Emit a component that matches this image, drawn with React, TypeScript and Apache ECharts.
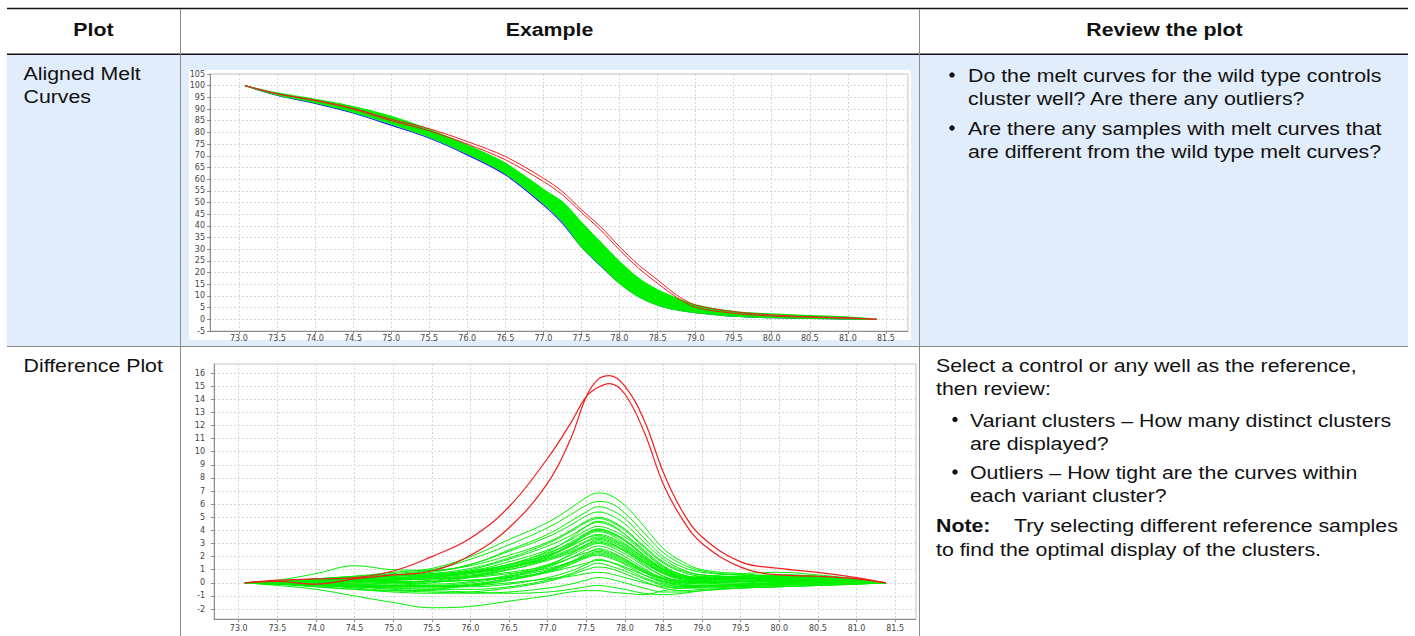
import React, { useEffect, useRef } from "react";
import * as echarts from "echarts";

// ---------- Aligned melt curves (top chart) ----------
const MELT_X = [73.08, 73.5, 74.0, 74.5, 75.0, 75.5, 76.0, 76.5, 77.0, 77.25, 77.5, 77.75, 78.0, 78.25, 78.5, 78.75, 79.0, 79.5, 80.0, 80.5, 81.0, 81.38];
const MELT_GREEN_TOP = [100, 96.9, 94.2, 91.1, 86.9, 81.2, 74.5, 66.8, 55.6, 50.2, 41.5, 33.0, 24.7, 17.6, 12.6, 9.0, 6.1, 3.3, 2.3, 1.6, 1.0, 0];
const MELT_GREEN_BOTTOM = [100, 96.1, 92.7, 88.7, 83.7, 78.1, 71.0, 62.4, 49.7, 41.9, 31.1, 23.3, 15.4, 9.7, 6.1, 4.0, 2.9, 1.4, 0.7, 0.4, 0.1, 0];
const MELT_RED_1 = [100, 96.6, 93.8, 90.3, 85.6, 81.6, 76.1, 69.7, 60.4, 54.7, 46.9, 39.7, 31.1, 23.3, 16.9, 10.4, 6.1, 3.3, 1.9, 1.1, 0.7, 0];
const MELT_RED_2 = [100, 96.5, 93.6, 90.0, 85.0, 80.7, 75.0, 68.3, 59.0, 53.3, 45.7, 38.3, 29.7, 21.9, 15.4, 9.4, 5.1, 2.6, 1.4, 0.9, 0.4, 0];
const MELT_BLUE = [100, 95.9, 92.4, 88.3, 83.1, 77.6, 70.4, 61.9, 49.0, 41.2, 31.0, 23.0, 15.5, 9.8, 6.2, 4.1, 2.9, 1.4, 0.7, 0.4, 0.1, 0];

// ---------- Difference plot (bottom chart) ----------
const DIFF_X = [73.08, 73.5, 74.0, 74.5, 75.0, 75.5, 76.0, 76.5, 77.0, 77.3, 77.5, 77.65, 77.8, 78.0, 78.25, 78.5, 78.75, 79.0, 79.5, 80.0, 80.5, 81.0, 81.38];
const DIFF_RED_A = [0, 0.2, 0.3, 0.4, 0.9, 2.0, 3.4, 5.8, 9.5, 12.2, 14.2, 14.9, 15.2, 14.4, 11.5, 7.5, 4.8, 3.0, 1.2, 0.6, 0.5, 0.3, 0];
const DIFF_RED_B = [0, 0.1, -0.1, 0.3, 0.6, 0.9, 2.1, 4.2, 7.6, 11.0, 14.2, 15.5, 15.8, 15.0, 12.4, 8.4, 5.4, 3.5, 1.6, 1.1, 0.8, 0.4, 0];
const DIFF_GREEN = [
  [0, 0.1, 0.3, 0.5, 0.8, 1.1, 2.0, 3.3, 4.6, 5.7, 6.5, 6.85, 6.7, 5.9, 4.3, 2.6, 1.6, 1.0, 0.7, 0.5, 0.4, 0.2, 0],
  [0, 0.1, 0.2, 0.4, 0.7, 1.0, 1.8, 2.9, 4.2, 5.2, 5.9, 6.2, 6.1, 5.3, 3.8, 2.3, 1.4, 0.9, 0.6, 0.5, 0.4, 0.2, 0],
  [0, 0.2, 0.7, 1.3, 1.0, 0.95, 1.4, 2.5, 3.7, 4.7, 5.4, 5.8, 5.6, 4.9, 3.4, 2.0, 1.2, 0.8, 0.6, 0.5, 0.3, 0.2, 0],
  [0, 0.0, 0.1, 0.2, 0.5, 0.8, 1.4, 2.4, 3.5, 4.4, 5.1, 5.4, 5.2, 4.5, 3.1, 1.8, 1.0, 0.6, 0.4, 0.3, 0.2, 0.1, 0],
  [0, 0.1, 0.3, 0.4, 0.6, 0.9, 1.3, 2.1, 3.1, 4.0, 4.7, 5.0, 4.8, 4.1, 2.8, 1.6, 0.9, 0.6, 0.5, 0.6, 0.5, 0.3, 0],
  [0, -0.1, 0.0, 0.1, 0.3, 0.6, 1.0, 1.8, 2.8, 3.6, 4.3, 4.6, 4.4, 3.7, 2.5, 1.3, 0.6, 0.3, 0.2, 0.2, 0.1, 0.1, 0],
  [0, 0.1, 0.2, 0.3, 0.4, 0.6, 0.9, 1.6, 2.5, 3.3, 4.0, 4.3, 4.1, 3.5, 2.3, 1.2, 0.6, 0.4, 0.4, 0.3, 0.3, 0.1, 0],
  [0, 0.0, -0.1, 0.0, 0.2, 0.4, 0.8, 1.4, 2.3, 3.0, 3.7, 4.0, 3.8, 3.2, 2.1, 1.0, 0.4, 0.2, 0.1, 0.2, 0.2, 0.1, 0],
  [0, 0.1, 0.3, 0.5, 0.6, 0.7, 0.9, 1.4, 2.1, 2.8, 3.4, 3.7, 3.5, 2.9, 1.9, 1.0, 0.5, 0.4, 0.5, 0.5, 0.4, 0.2, 0],
  [0, -0.1, -0.2, -0.3, -0.2, 0.0, 0.4, 1.0, 1.8, 2.5, 3.1, 3.4, 3.2, 2.6, 1.6, 0.7, 0.2, 0.0, -0.1, 0.0, 0.1, 0.0, 0],
  [0, 0.0, 0.1, 0.1, 0.2, 0.3, 0.6, 1.0, 1.7, 2.3, 2.8, 3.1, 2.9, 2.4, 1.5, 0.7, 0.3, 0.2, 0.3, 0.3, 0.2, 0.1, 0],
  [0, -0.1, -0.3, -0.5, -0.6, -0.5, -0.2, 0.4, 1.2, 1.9, 2.5, 2.8, 2.6, 2.0, 1.1, 0.3, -0.1, -0.2, -0.2, -0.1, 0.0, 0.0, 0],
  [0, 0.1, 0.2, 0.2, 0.3, 0.4, 0.5, 0.8, 1.3, 1.9, 2.3, 2.5, 2.3, 1.8, 1.0, 0.4, 0.2, 0.2, 0.3, 0.4, 0.3, 0.2, 0],
  [0, 0.0, -0.2, -0.3, -0.4, -0.4, -0.2, 0.2, 0.8, 1.4, 1.9, 2.1, 1.9, 1.4, 0.6, 0.0, -0.3, -0.3, -0.2, -0.1, 0.0, 0.0, 0],
  [0, 0.1, 0.1, 0.0, 0.0, 0.1, 0.2, 0.4, 0.8, 1.2, 1.5, 1.7, 1.6, 1.2, 0.6, 0.1, -0.1, 0.0, 0.1, 0.2, 0.2, 0.1, 0],
  [0, -0.1, -0.3, -0.5, -0.7, -0.8, -0.7, -0.4, 0.1, 0.6, 1.0, 1.2, 1.1, 0.7, 0.1, -0.4, -0.6, -0.5, -0.4, -0.3, -0.2, -0.1, 0],
  [0, 0.0, -0.1, -0.2, -0.2, -0.2, -0.2, 0.0, 0.3, 0.5, 0.7, 0.8, 0.7, 0.4, 0.0, -0.3, -0.4, -0.3, -0.1, 0.0, 0.1, 0.0, 0],
  [0, -0.1, -0.2, -0.4, -0.6, -0.7, -0.8, -0.7, -0.4, -0.1, 0.2, 0.4, 0.3, 0.0, -0.4, -0.7, -0.7, -0.6, -0.4, -0.3, -0.2, -0.1, 0],
  [0, -0.1, -0.2, -0.3, -0.5, -0.6, -0.7, -0.8, -0.7, -0.5, -0.3, -0.2, -0.3, -0.5, -0.8, -0.9, -0.8, -0.6, -0.4, -0.3, -0.2, -0.1, 0],
  [0, -0.2, -0.5, -1.0, -1.5, -1.9, -1.8, -1.4, -1.0, -0.7, -0.6, -0.6, -0.7, -0.8, -0.9, -0.6, -0.4, -0.3, -0.2, -0.1, -0.1, 0.0, 0],
  [0, 0.0, 0.1, 0.2, 0.3, 0.5, 0.8, 1.2, 1.9, 2.6, 3.2, 3.5, 3.3, 2.7, 1.7, 0.8, 0.4, 0.5, 0.7, 0.8, 0.6, 0.3, 0],
  [0, 0.1, 0.0, -0.1, -0.1, 0.1, 0.5, 1.2, 2.1, 2.9, 3.6, 3.9, 3.7, 3.0, 1.9, 0.9, 0.4, 0.3, 0.3, 0.2, 0.2, 0.1, 0],
  [0, 0.0, 0.1, 0.1, 0.0, -0.1, 0.1, 0.6, 1.4, 2.1, 2.7, 3.0, 2.8, 2.2, 1.3, 0.5, 0.1, 0.0, 0.1, 0.1, 0.1, 0.0, 0],
  [0, -0.1, -0.2, -0.2, -0.3, -0.3, -0.1, 0.3, 0.9, 1.5, 2.0, 2.3, 2.1, 1.6, 0.8, 0.1, -0.2, -0.2, -0.1, 0.0, 0.0, 0.0, 0],
  [0, 0.1, 0.2, 0.3, 0.5, 0.7, 1.1, 1.9, 3.0, 3.9, 4.6, 4.9, 4.7, 4.0, 2.7, 1.5, 0.8, 0.5, 0.4, 0.4, 0.3, 0.2, 0],
  [0, 0.0, 0.0, 0.1, 0.2, 0.4, 0.7, 1.3, 2.2, 3.1, 3.8, 4.1, 3.9, 3.3, 2.1, 1.1, 0.5, 0.3, 0.3, 0.3, 0.2, 0.1, 0],
  [0, -0.1, -0.1, -0.1, 0.0, 0.2, 0.5, 1.1, 2.0, 2.8, 3.4, 3.6, 3.4, 2.8, 1.8, 0.8, 0.3, 0.1, 0.0, 0.1, 0.1, 0.0, 0],
  [0, 0.1, 0.2, 0.4, 0.5, 0.6, 0.8, 1.2, 1.8, 2.4, 2.9, 3.2, 3.0, 2.5, 1.6, 0.8, 0.4, 0.3, 0.4, 0.5, 0.4, 0.2, 0],
  [0, 0.0, -0.1, -0.2, -0.3, -0.3, -0.2, 0.2, 0.9, 1.6, 2.2, 2.6, 2.4, 1.8, 0.9, 0.2, -0.2, -0.3, -0.3, -0.2, -0.1, 0.0, 0],
  [0, 0.1, 0.1, 0.1, 0.2, 0.3, 0.4, 0.7, 1.1, 1.6, 2.0, 2.2, 2.0, 1.5, 0.8, 0.3, 0.1, 0.1, 0.2, 0.3, 0.3, 0.1, 0],
  [0, -0.1, -0.2, -0.3, -0.4, -0.5, -0.5, -0.3, 0.2, 0.7, 1.2, 1.5, 1.3, 0.9, 0.3, -0.2, -0.4, -0.4, -0.3, -0.2, -0.1, 0.0, 0],
  [0, 0.0, 0.1, 0.1, 0.1, 0.1, 0.2, 0.5, 1.0, 1.6, 2.1, 2.4, 2.2, 1.7, 0.9, 0.3, 0.0, 0.0, 0.1, 0.2, 0.1, 0.1, 0],
  [0, 0.1, 0.2, 0.3, 0.4, 0.5, 0.7, 1.2, 2.0, 2.9, 3.7, 4.1, 3.9, 3.2, 2.0, 1.0, 0.5, 0.4, 0.5, 0.6, 0.5, 0.2, 0],
  [0, 0.0, -0.1, -0.1, -0.2, -0.2, 0.0, 0.5, 1.3, 2.2, 2.9, 3.3, 3.1, 2.4, 1.4, 0.5, 0.0, -0.1, -0.1, 0.0, 0.0, 0.0, 0],
  [0, -0.1, -0.2, -0.3, -0.3, -0.3, -0.3, -0.1, 0.4, 0.9, 1.4, 1.8, 1.6, 1.1, 0.4, -0.1, -0.3, -0.3, -0.2, -0.1, 0.0, 0.0, 0],
  [0, 0.1, 0.1, 0.2, 0.3, 0.5, 0.8, 1.4, 2.4, 3.4, 4.3, 4.7, 4.5, 3.7, 2.4, 1.2, 0.6, 0.4, 0.4, 0.4, 0.3, 0.2, 0],
];

// ---------- Tick labels ----------
const X_TICKS = [73.0, 73.5, 74.0, 74.5, 75.0, 75.5, 76.0, 76.5, 77.0, 77.5, 78.0, 78.5, 79.0, 79.5, 80.0, 80.5, 81.0, 81.5];
const DIFF_Y_TICKS = [-2, -1, 0, 1, 2, 3, 4, 5, 6, 7, 8, 9, 10, 11, 12, 13, 14, 15, 16];

// ---------- Table texts ----------
const HEADERS = ["Plot", "Example", "Review the plot"];
const ROW1_LABEL = ["Aligned Melt", "Curves"];
const ROW1_BULLETS = [
  ["Do the melt curves for the wild type controls", "cluster well? Are there any outliers?"],
  ["Are there any samples with melt curves that", "are different from the wild type melt curves?"],
];
const ROW2_LABEL = "Difference Plot";
const ROW2_INTRO = ["Select a control or any well as the reference,", "then review:"];
const ROW2_BULLETS = [
  ["Variant clusters \u2013 How many distinct clusters", "are displayed?"],
  ["Outliers \u2013 How tight are the curves within", "each variant cluster?"],
];
const NOTE_LABEL = "Note:";
const NOTE_TEXT = ["Try selecting different reference samples", "to find the optimal display of the clusters."];

const FONT = "'Liberation Sans', Arial, Helvetica, sans-serif";
const FS = 18.7;
const SX = 1.14;
const BASE_TO_TOP = 15.5;
const GREEN = "#00f000";
const RED = "#f01e1e";

// y is the text baseline; converted to a top-aligned position
function txt(text: string, x: number, y: number, opts: any = {}) {
  return {
    type: "text",
    x,
    y: y - BASE_TO_TOP,
    scaleX: SX,
    z: 100,
    silent: true,
    style: {
      text,
      fontSize: FS,
      fontFamily: FONT,
      fontWeight: opts.bold ? "bold" : "normal",
      fill: "#111",
      align: opts.align || "left",
      verticalAlign: "top",
      textAlign: opts.align || "left",
      textVerticalAlign: "top",
    },
  };
}
function dot(x: number, y: number) {
  return { type: "circle", z: 100, silent: true, shape: { cx: x, cy: y, r: 2.7 }, style: { fill: "#111" } };
}
function hline(x1: number, x2: number, y: number, color: string, w: number) {
  return { type: "line", z: 100, silent: true, shape: { x1, y1: y, x2, y2: y }, style: { stroke: color, lineWidth: w } };
}
function vline(x: number, y1: number, y2: number, color: string, w: number) {
  return { type: "line", z: 100, silent: true, shape: { x1: x, y1, x2: x, y2 }, style: { stroke: color, lineWidth: w } };
}

function zip(xs: number[], ys: number[]) {
  return xs.map((x, i) => [x, ys[i]]);
}

const axisLabelBase = { fontSize: 8, color: "#444", fontFamily: "'DejaVu Sans', sans-serif" };
const splitLineStyle = { show: true, lineStyle: { color: "#d6d6d6", type: [2, 2], width: 1 } };

function buildOption() {
  const graphics: any[] = [];
  // backgrounds
  graphics.push({ type: "rect", z: -10, silent: true, shape: { x: 7, y: 55, width: 1401, height: 291 }, style: { fill: "#e2edfb" } });
  graphics.push({ type: "rect", z: -9, silent: true, shape: { x: 189, y: 70, width: 722, height: 270 }, style: { fill: "#ffffff" } });
  // table rules
  graphics.push(hline(7, 1408, 8.5, "#111", 1.5));
  graphics.push(hline(7, 1408, 54.25, "#111", 1.5));
  graphics.push(hline(7, 1408, 346.5, "#8a8a8a", 1));
  graphics.push(vline(180.5, 9, 636, "#8a8a8a", 1));
  graphics.push(vline(919.5, 9, 636, "#8a8a8a", 1));
  // header
  graphics.push(txt(HEADERS[0], 93.5, 35, { bold: true, align: "center" }));
  graphics.push(txt(HEADERS[1], 549.5, 35, { bold: true, align: "center" }));
  graphics.push(txt(HEADERS[2], 1164.5, 35, { bold: true, align: "center" }));
  // row 1
  graphics.push(txt(ROW1_LABEL[0], 23.5, 79));
  graphics.push(txt(ROW1_LABEL[1], 23.5, 102));
  graphics.push(dot(952, 75));
  graphics.push(txt(ROW1_BULLETS[0][0], 968, 81));
  graphics.push(txt(ROW1_BULLETS[0][1], 968, 104));
  graphics.push(dot(952, 128));
  graphics.push(txt(ROW1_BULLETS[1][0], 968, 134));
  graphics.push(txt(ROW1_BULLETS[1][1], 968, 157));
  // row 2
  graphics.push(txt(ROW2_LABEL, 23.5, 371.5));
  graphics.push(txt(ROW2_INTRO[0], 936, 371.5));
  graphics.push(txt(ROW2_INTRO[1], 936, 394.5));
  graphics.push(dot(955, 419.5));
  graphics.push(txt(ROW2_BULLETS[0][0], 970, 426));
  graphics.push(txt(ROW2_BULLETS[0][1], 970, 449));
  graphics.push(dot(955, 472));
  graphics.push(txt(ROW2_BULLETS[1][0], 970, 478.5));
  graphics.push(txt(ROW2_BULLETS[1][1], 970, 501.5));
  graphics.push(txt(NOTE_LABEL, 936, 531.5, { bold: true }));
  graphics.push(txt(NOTE_TEXT[0], 1014, 531.5));
  graphics.push(txt(NOTE_TEXT[1], 936, 555));

  const xAxisCommon = (gridIndex: number, min: number, max: number, margin: number) => ({
    type: "value",
    gridIndex,
    min,
    max,
    axisLine: { show: true, onZero: false, lineStyle: { color: "#8c8c8c", width: 1 } },
    axisTick: { show: true, length: 3, customValues: X_TICKS, lineStyle: { color: "#8c8c8c" } },
    axisLabel: { ...axisLabelBase, margin, customValues: X_TICKS, formatter: (v: number) => v.toFixed(1) },
    splitLine: splitLineStyle,
  });

  const series: any[] = [];
  // melt chart
  series.push({
    type: "line", xAxisIndex: 0, yAxisIndex: 0, data: zip(MELT_X, MELT_BLUE), smooth: 0.3,
    showSymbol: false, silent: true, z: 2, lineStyle: { color: "#1a1aff", width: 1.2 },
  });
  series.push({
    type: "custom", xAxisIndex: 0, yAxisIndex: 0, silent: true, z: 3,
    data: [[MELT_X[0], MELT_GREEN_TOP[0]]],
    renderItem: (_params: any, api: any) => {
      const pts: number[][] = [];
      for (let i = 0; i < MELT_X.length; i++) pts.push(api.coord([MELT_X[i], MELT_GREEN_TOP[i]]));
      for (let i = MELT_X.length - 2; i >= 1; i--) pts.push(api.coord([MELT_X[i], MELT_GREEN_BOTTOM[i]]));
      return { type: "polygon", shape: { points: pts, smooth: 0.3 }, style: { fill: GREEN, stroke: GREEN, lineWidth: 1.2 } };
    },
  });
  series.push({
    type: "line", xAxisIndex: 0, yAxisIndex: 0, data: zip(MELT_X, MELT_RED_1), smooth: 0.3,
    showSymbol: false, silent: true, z: 4, lineStyle: { color: RED, width: 1 },
  });
  series.push({
    type: "line", xAxisIndex: 0, yAxisIndex: 0, data: zip(MELT_X, MELT_RED_2), smooth: 0.3,
    showSymbol: false, silent: true, z: 4, lineStyle: { color: RED, width: 1 },
  });
  // difference chart
  DIFF_GREEN.forEach((g) => {
    series.push({
      type: "line", xAxisIndex: 1, yAxisIndex: 1, data: zip(DIFF_X, g), smooth: 0.4,
      showSymbol: false, silent: true, z: 3, lineStyle: { color: GREEN, width: 1 },
    });
  });
  [DIFF_RED_A, DIFF_RED_B].forEach((r) => {
    series.push({
      type: "line", xAxisIndex: 1, yAxisIndex: 1, data: zip(DIFF_X, r), smooth: 0.4,
      showSymbol: false, silent: true, z: 4, lineStyle: { color: RED, width: 1.2 },
    });
  });

  return {
    animation: false,
    backgroundColor: "#ffffff",
    graphic: { elements: graphics },
    grid: [
      { left: 210, top: 74, width: 698, height: 257, show: true, borderColor: "#c4c4c4", borderWidth: 1, backgroundColor: "transparent", containLabel: false },
      { left: 214, top: 364, width: 702, height: 255, show: true, borderColor: "#c4c4c4", borderWidth: 1, backgroundColor: "transparent", containLabel: false },
    ],
    xAxis: [xAxisCommon(0, 72.62, 81.79, 3), xAxisCommon(1, 72.68, 81.77, 5)],
    yAxis: [
      {
        type: "value", gridIndex: 0, min: -5, max: 105, interval: 5,
        axisLine: { show: true, onZero: false, lineStyle: { color: "#8c8c8c" } },
        axisTick: { show: true, length: 3, lineStyle: { color: "#8c8c8c" } },
        axisLabel: { ...axisLabelBase, margin: 5 },
        splitLine: splitLineStyle,
      },
      {
        type: "value", gridIndex: 1, min: -2.76, max: 16.69,
        axisLine: { show: true, onZero: false, lineStyle: { color: "#8c8c8c" } },
        axisTick: { show: true, length: 3, customValues: DIFF_Y_TICKS, lineStyle: { color: "#8c8c8c" } },
        axisLabel: { ...axisLabelBase, margin: 9, customValues: DIFF_Y_TICKS },
        splitLine: splitLineStyle,
      },
    ],
    series,
  };
}

export default function App() {
  const ref = useRef<HTMLDivElement>(null);
  useEffect(() => {
    if (!ref.current) return;
    const chart = echarts.init(ref.current, null, { renderer: "svg" });
    chart.setOption(buildOption() as any);
    return () => chart.dispose();
  }, []);
  return <div ref={ref} style={{ position: "fixed", left: 0, top: 0, width: 1415, height: 636 }} />;
}
